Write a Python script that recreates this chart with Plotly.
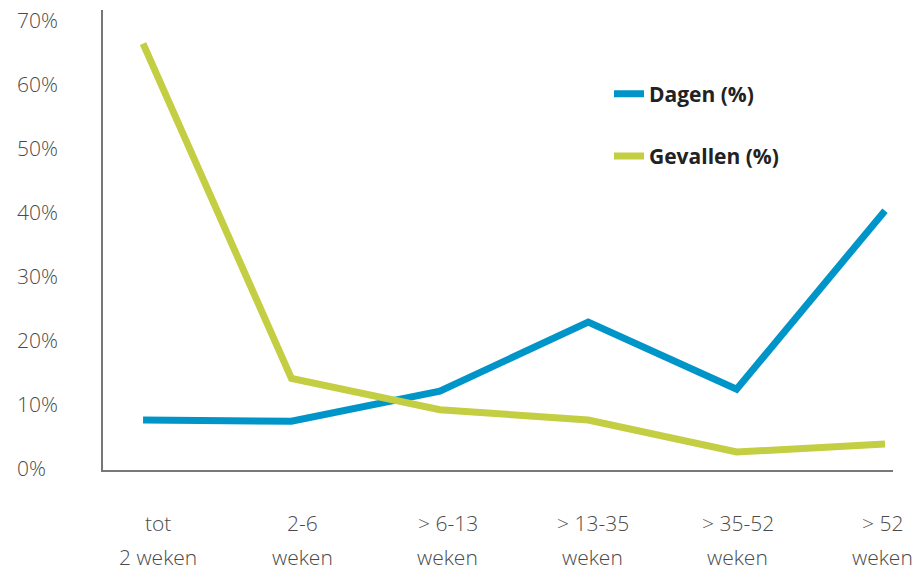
import plotly.graph_objects as go

# ---- data ----
categories = ["tot 2 weken", "2-6 weken", "> 6-13 weken", "> 13-35 weken", "> 35-52 weken", "> 52 weken"]
label_line1 = ["tot", "2-6", "> 6-13", "> 13-35", "> 35-52", "> 52"]
label_line2 = ["2 weken", "weken", "weken", "weken", "weken", "weken"]
dagen = [7.5, 7.3, 12.0, 22.8, 12.3, 40.2]
gevallen = [66.3, 14.0, 9.1, 7.5, 2.5, 3.75]
y_ticks = [0, 10, 20, 30, 40, 50, 60, 70]
y_tick_labels = ["0%", "10%", "20%", "30%", "40%", "50%", "60%", "70%"]

BLUE = "#0095C8"
GREEN = "#C4CE42"
FONT = "Open Sans"
TICK_COLOR = "#4a4a4a"

x_idx = list(range(len(categories)))

fig = go.Figure()
fig.add_trace(go.Scatter(x=x_idx, y=dagen, mode="lines", name="<b>Dagen (%)</b>",
                         line=dict(color=BLUE, width=7), legendgroup="a",
                         hovertext=categories))
fig.add_trace(go.Scatter(x=x_idx, y=gevallen, mode="lines", name="<b>Gevallen (%)</b>",
                         line=dict(color=GREEN, width=7), legendgroup="b",
                         hovertext=categories))

tick_font = dict(family=FONT, size=21, color=TICK_COLOR, weight=300)
annotations = []
for v, t in zip(y_ticks, y_tick_labels):
    annotations.append(dict(text=t, x=-0.1114, xref="paper", y=v, yref="y",
                            xanchor="left", yanchor="middle", showarrow=False,
                            font=tick_font))
for i, (a, b) in enumerate(zip(label_line1, label_line2)):
    annotations.append(dict(text=a, x=i, xref="x2", y=-0.1152, yref="paper",
                            xanchor="center", yanchor="middle", showarrow=False,
                            font=tick_font))
    annotations.append(dict(text=b, x=i, xref="x2", y=-0.1891, yref="paper",
                            xanchor="center", yanchor="middle", showarrow=False,
                            font=tick_font))

fig.update_layout(
    width=919, height=571,
    margin=dict(l=103, r=26, t=10, b=101),
    paper_bgcolor="white", plot_bgcolor="white",
    font=dict(family=FONT),
    xaxis=dict(range=[-0.27, 5.054], showgrid=False, zeroline=False,
               showticklabels=False, ticks="", showline=True,
               linecolor="#777777", linewidth=1.5),
    xaxis2=dict(range=[-0.379, 5.069], overlaying="x", anchor="y",
                showgrid=False, zeroline=False, showticklabels=False,
                ticks="", showline=False),
    yaxis=dict(range=[-0.3125, 71.56], showgrid=False, zeroline=False,
               showticklabels=False, ticks="", showline=True,
               linecolor="#777777", linewidth=1.5),
    legend=dict(x=0.6405, y=0.862, xanchor="left", yanchor="top",
                font=dict(family=FONT, size=21, color="#222222"),
                tracegroupgap=32, bgcolor="rgba(0,0,0,0)"),
    annotations=annotations,
    showlegend=True,
)

fig.write_html("out.html", config={"displayModeBar": False},
               post_script="document.body.style.margin='0';document.body.style.padding='0';")
